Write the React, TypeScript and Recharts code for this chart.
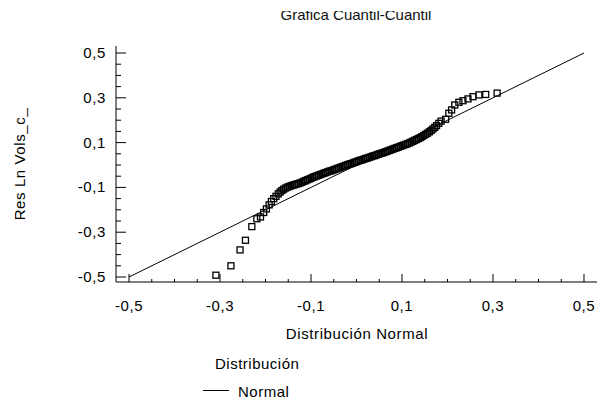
import React from "react";
import {
  ComposedChart,
  Scatter,
  XAxis,
  YAxis,
  Legend,
} from "recharts";

const FONT = '"Liberation Sans", Arial, sans-serif';

// theoretical normal quantiles (x) and sorted residuals (y)
const qx = [
  -0.309, -0.276, -0.256, -0.244, -0.23, -0.219, -0.211, -0.204, -0.198, -0.192,
  -0.187, -0.182, -0.177, -0.172, -0.168, -0.164, -0.16, -0.156, -0.152, -0.148,
  -0.144, -0.14, -0.136, -0.132, -0.128, -0.124, -0.12, -0.116, -0.112, -0.108,
  -0.104, -0.1, -0.096, -0.092, -0.088, -0.084, -0.08, -0.076, -0.072, -0.068,
  -0.064, -0.06, -0.056, -0.052, -0.048, -0.044, -0.04, -0.036, -0.032, -0.028,
  -0.024, -0.02, -0.016, -0.012, -0.008, -0.004, 0.0, 0.004, 0.008, 0.012,
  0.016, 0.02, 0.024, 0.028, 0.032, 0.036, 0.04, 0.044, 0.048, 0.052,
  0.056, 0.06, 0.064, 0.068, 0.072, 0.076, 0.08, 0.084, 0.088, 0.092,
  0.096, 0.1, 0.104, 0.108, 0.112, 0.116, 0.12, 0.124, 0.128, 0.132,
  0.136, 0.14, 0.144, 0.148, 0.152, 0.156, 0.16, 0.164, 0.168, 0.172,
  0.176, 0.181, 0.186, 0.196, 0.203, 0.209, 0.216, 0.225, 0.234, 0.245,
  0.256, 0.269, 0.284, 0.309,
];
const qy = [
  -0.492, -0.45, -0.379, -0.336, -0.275, -0.24, -0.232, -0.212, -0.196, -0.178,
  -0.163, -0.15, -0.14, -0.129, -0.121, -0.114, -0.108, -0.103, -0.099, -0.096,
  -0.093, -0.09, -0.088, -0.085, -0.083, -0.08, -0.077, -0.073, -0.07, -0.066,
  -0.063, -0.059, -0.055, -0.052, -0.049, -0.046, -0.043, -0.04, -0.037, -0.034,
  -0.031, -0.028, -0.026, -0.023, -0.02, -0.017, -0.014, -0.011, -0.008, -0.005,
  -0.002, 0.001, 0.004, 0.006, 0.009, 0.012, 0.015, 0.018, 0.021, 0.023,
  0.026, 0.029, 0.031, 0.034, 0.037, 0.04, 0.042, 0.045, 0.048, 0.051,
  0.053, 0.056, 0.059, 0.062, 0.065, 0.068, 0.071, 0.074, 0.077, 0.08,
  0.083, 0.086, 0.089, 0.092, 0.095, 0.098, 0.102, 0.106, 0.11, 0.114,
  0.118, 0.122, 0.127, 0.132, 0.137, 0.142, 0.148, 0.154, 0.161, 0.168,
  0.176, 0.186, 0.196, 0.204, 0.231, 0.246, 0.268, 0.28, 0.287, 0.295,
  0.305, 0.313, 0.315, 0.321,
];

// reference line of the normal distribution
const normX = [-0.5, 0.5];
const normY = [-0.5, 0.5];

const TICKS = [
  -0.5, -0.45, -0.4, -0.35, -0.3, -0.25, -0.2, -0.15, -0.1, -0.05, 0,
  0.05, 0.1, 0.15, 0.2, 0.25, 0.3, 0.35, 0.4, 0.45, 0.5,
];
const LABELED = [-0.5, -0.3, -0.1, 0.1, 0.3, 0.5];

const X_DOMAIN = [-0.5286, 0.5308];
const Y_DOMAIN = [-0.5223, 0.5313];

const points = qx.map((x, i) => ({ x, y: qy[i] }));
const normal = normX.map((x, i) => ({ x, y: normY[i] }));

const isMajor = (v: number) => LABELED.some((l) => Math.abs(l - v) < 1e-6);
const fmt = (v: number) => v.toFixed(1).replace(".", ",");

const textStyle = { fontFamily: FONT, fontSize: 15, fill: "#000", letterSpacing: 0.6 };

function BottomTick({ x, y, payload }: any) {
  const major = isMajor(payload.value);
  return (
    <g>
      <line x1={x} y1={y} x2={x} y2={y - (major ? 8 : 3)} stroke="#000" />
      {major && (
        <text x={x} y={y + 29} textAnchor="middle" style={textStyle}>
          {fmt(payload.value)}
        </text>
      )}
    </g>
  );
}

function LeftTick({ x, y, payload }: any) {
  const major = isMajor(payload.value);
  return (
    <g>
      <line x1={x} y1={y} x2={x + (major ? 10 : 5)} y2={y} stroke="#000" />
      {major && (
        <text x={x - 10} y={y + 5} textAnchor="end" style={textStyle}>
          {fmt(payload.value)}
        </text>
      )}
    </g>
  );
}

function TopTick({ x, y }: any) {
  return <line x1={x} y1={y} x2={x} y2={y + 4} stroke="#000" />;
}

function RightTick({ x, y, payload }: any) {
  const major = isMajor(payload.value);
  return <line x1={x} y1={y} x2={x - (major ? 10 : 5)} y2={y} stroke="#000" />;
}

function Square({ cx, cy }: any) {
  return <rect x={cx - 3} y={cy - 3} width={6} height={6} fill="none" stroke="#000" strokeWidth={1.3} />;
}

function LegendBox() {
  return (
    <div style={{ fontFamily: FONT, fontSize: 15, lineHeight: "17px", color: "#000", letterSpacing: 0.5 }}>
      <div style={{ marginLeft: 12, height: 28 }}>Distribución</div>
      <div style={{ display: "flex", alignItems: "flex-start" }}>
        <svg width={26} height={17} style={{ display: "block" }}>
          <line x1={0} y1={7.5} x2={26} y2={7.5} stroke="#000" />
        </svg>
        <span style={{ marginLeft: 9 }}>Normal</span>
      </div>
    </div>
  );
}

export default function App() {
  return (
    <div
      style={{
        position: "absolute",
        left: 0,
        top: 0,
        width: 597,
        height: 401,
        overflow: "hidden",
        background: "#fff",
      }}
    >
      <svg width={597} height={10} style={{ position: "absolute", left: 0, top: 11 }}>
        <text x={356} y={8.5} textAnchor="middle" style={{ fontFamily: FONT, fontSize: 15, fill: "#111" }}>
          Grafica Cuantil-Cuantil
        </text>
      </svg>
      <ComposedChart
        width={600}
        height={401}
        margin={{ top: 46, right: 2, bottom: 89, left: 0 }}
      >
        <XAxis
          xAxisId="b"
          type="number"
          dataKey="x"
          domain={X_DOMAIN}
          allowDataOverflow
          ticks={TICKS}
          interval={0}
          height={30}
          tickSize={0}
          tickMargin={0}
          tickLine={false}
          tick={<BottomTick />}
          axisLine={{ stroke: "#000" }}
          label={{
            content: ({ viewBox }: any) => (
              <text
                x={viewBox.x + viewBox.width / 2}
                y={viewBox.y + 57}
                textAnchor="middle"
                style={textStyle}
              >
                Distribución Normal
              </text>
            ),
          }}
        />
        <XAxis
          xAxisId="t"
          orientation="top"
          type="number"
          dataKey="x"
          domain={X_DOMAIN}
          allowDataOverflow
          ticks={TICKS}
          interval={0}
          height={0}
          tickSize={0}
          tickMargin={0}
          tickLine={false}
          tick={<TopTick />}
          axisLine={{ stroke: "#000" }}
        />
        <YAxis
          yAxisId="l"
          type="number"
          dataKey="y"
          domain={Y_DOMAIN}
          allowDataOverflow
          ticks={TICKS}
          interval={0}
          width={116}
          tickSize={0}
          tickMargin={0}
          tickLine={false}
          tick={<LeftTick />}
          axisLine={{ stroke: "#000" }}
          label={{
            content: () => (
              <text
                x={25}
                y={164}
                transform="rotate(-90, 25, 164)"
                textAnchor="middle"
                style={textStyle}
              >
                Res Ln Vols_c_
              </text>
            ),
          }}
        />
        <YAxis
          yAxisId="r"
          orientation="right"
          type="number"
          dataKey="y"
          domain={Y_DOMAIN}
          allowDataOverflow
          ticks={TICKS}
          interval={0}
          width={0}
          tickSize={0}
          tickMargin={0}
          tickLine={false}
          tick={<RightTick />}
          axisLine={{ stroke: "#000" }}
        />
        <Legend
          layout="horizontal"
          verticalAlign="middle"
          align="center"
          content={() => <LegendBox />}
          wrapperStyle={{ left: 203, top: 355, width: "auto" }}
        />
        <Scatter
          xAxisId="b"
          yAxisId="l"
          data={normal}
          line={{ stroke: "#000", strokeWidth: 1 }}
          shape={() => <g />}
          isAnimationActive={false}
        />
        <Scatter
          xAxisId="b"
          yAxisId="l"
          data={points}
          shape={<Square />}
          isAnimationActive={false}
        />
      </ComposedChart>
    </div>
  );
}
